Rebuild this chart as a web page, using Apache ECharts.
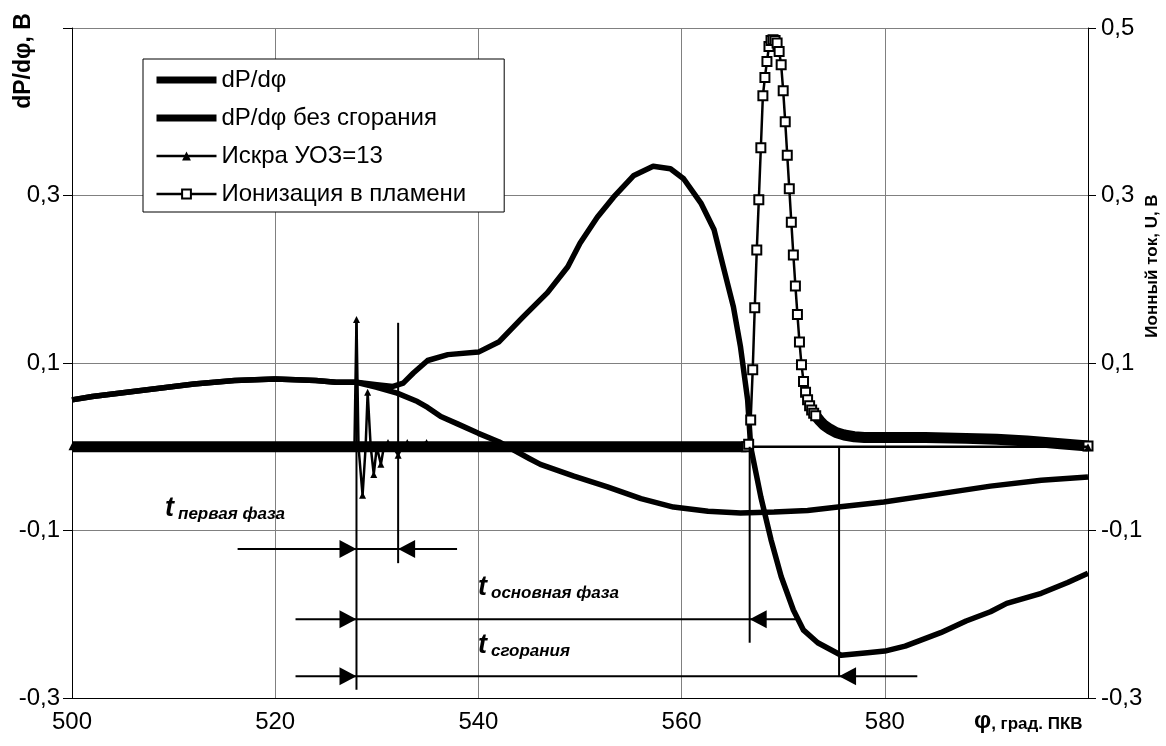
<!DOCTYPE html>
<html><head><meta charset="utf-8">
<script src="https://cdn.jsdelivr.net/npm/echarts@6/dist/echarts.min.js"></script>
<style>html,body{margin:0;padding:0;background:#fff}#c{width:1166px;height:746px}</style>
</head><body><div id="c"></div>
<script>
const FONT = '"Liberation Sans", Arial, sans-serif';

// ---- dP/dφ (с горением) ----
const dpX = [500,502,504,506,508,510,512,514,516,518,520,522,524,526,528,530,531.6,532.6,533.6,535,537,540,542,544.4,546.8,548.8,550,551.7,553.3,555.3,557.2,558.9,560.2,561.9,563.2,564.1,565.1,565.8,566.5,566.8,567.8,568.8,569.8,571,572,573.4,575.7,578.3,580,582,585.5,588,590.4,592,595.4,598,600];
const dpY = [0.056,0.060,0.063,0.066,0.069,0.072,0.075,0.077,0.079,0.080,0.081,0.080,0.079,0.077,0.077,0.074,0.072,0.076,0.088,0.103,0.110,0.113,0.125,0.155,0.184,0.215,0.243,0.274,0.298,0.324,0.335,0.332,0.320,0.291,0.259,0.215,0.167,0.119,0.056,0.0,-0.060,-0.111,-0.155,-0.195,-0.219,-0.234,-0.249,-0.246,-0.244,-0.238,-0.222,-0.208,-0.197,-0.187,-0.175,-0.162,-0.151];

// ---- dP/dφ без сгорания ----
const motX = [500,502,504,506,508,510,512,514,516,518,520,522,524,526,528,530,532,534,535,536.3,538,540,542,545,546.1,549.4,552.7,556,559.2,562.6,565.8,569.1,572.4,575.4,579.9,585.5,590.4,595.4,600];
const motY = [0.056,0.060,0.063,0.066,0.069,0.072,0.075,0.077,0.079,0.080,0.081,0.080,0.079,0.077,0.077,0.071,0.064,0.054,0.047,0.036,0.027,0.016,0.006,-0.014,-0.021,-0.035,-0.048,-0.062,-0.072,-0.077,-0.079,-0.078,-0.076,-0.072,-0.066,-0.056,-0.047,-0.040,-0.036];

// ---- Искра УОЗ=13 ----
const spkX = [500,511,527.8,528.0,528.2,528.6,528.9,529.1,529.4,529.7,530.0,530.4,530.7,531.1,531.6,532.1,532.5,533.0,533.5,534.9,535.3,600];
const spkY = [0,0,0,0.152,0,-0.058,0,0.065,0,-0.033,0,-0.021,0,0.005,0,-0.010,0,0.005,0,0.005,0,0];

// ---- Ионизация в пламени ----
const ionBaseX = [500,566.4];
const ionBaseY = [0,0];
const ionPeakX = [566.4,566.6,566.8,567.0,567.2,567.4,567.6,567.8,568.0,568.2,568.4,568.6,568.8,569.0,569.2,569.4,569.6,569.8,570.0,570.2,570.4,570.6,570.8,571.0,571.2,571.4,571.6,571.8,572.0,572.2,572.4,572.6,572.8,573.0,573.2];
const ionPeakY = [0,0.003,0.032,0.092,0.166,0.235,0.295,0.357,0.419,0.441,0.460,0.478,0.485,0.486,0.485,0.482,0.472,0.456,0.425,0.388,0.348,0.308,0.268,0.229,0.192,0.158,0.125,0.098,0.078,0.065,0.056,0.049,0.044,0.040,0.037];
const ionTailX = [573.2,573.6,574.0,574.6,575.2,576,577,578,580,584,588,591,594,597,600];
const ionTailY = [0.037,0.031,0.026,0.021,0.017,0.014,0.012,0.011,0.011,0.011,0.010,0.009,0.007,0.004,0.001];

// ---- axes ----
const xMin = 500, xMax = 600, xStep = 20;
const yMin = -0.3, yMax = 0.5, yStep = 0.2;

// ---- annotations (data units) ----
const vLineX = [528.0, 532.1, 566.7, 575.5];
const vLineTop = [0.152, 0.148, 0.0, 0.0];
const vLineBottom = [-0.29, -0.139, -0.234, -0.275];
const arrowRowY = [-0.122, -0.206, -0.274];
const arrowFromX = [516.3, 522.0, 522.0];
const arrowToX = [537.9, 571.4, 583.2];
const arrowRightTipX = [528.0, 528.0, 528.0];
const arrowLeftTipX = [532.1, 566.7, 575.5];

const zip = (xs, ys) => xs.map((x, i) => [x, ys[i]]);
const fmt = v => (Math.abs(v) < 1e-9 ? 0 : v).toFixed(1).replace('.', ',');

const chart = echarts.init(document.getElementById('c'), null, {renderer: 'canvas'});

const tail = zip(ionTailX, ionTailY);
tail[tail.length - 1] = {value: tail[tail.length - 1], symbol: 'rect', symbolSize: 9,
  itemStyle: {color: '#fff', borderColor: '#000', borderWidth: 2}};

const noSym = {color: 'rgba(0,0,0,0)', borderWidth: 0, opacity: 0};

const option = {
  animation: false,
  backgroundColor: '#fff',
  grid: {left: 72, right: 78, top: 28, bottom: 48, containLabel: false},
  xAxis: {
    type: 'value', min: xMin, max: xMax, interval: xStep,
    axisLine: {onZero: false, lineStyle: {color: '#000', width: 1}},
    axisTick: {show: false},
    axisLabel: {formatter: v => (v >= xMax ? '' : String(v)), fontSize: 24, color: '#000', fontFamily: FONT, margin: 12},
    splitLine: {show: true, lineStyle: {color: '#808080', width: 1}}
  },
  yAxis: [{
    type: 'value', position: 'left', min: yMin, max: yMax, interval: yStep,
    axisLine: {show: true, onZero: false, lineStyle: {color: '#000', width: 1}},
    axisTick: {show: true, inside: false, length: 9, lineStyle: {color: '#000'}},
    axisLabel: {formatter: v => (v > yMax - 0.01 ? '' : fmt(v)), fontSize: 24, color: '#000', fontFamily: FONT, margin: 12},
    splitLine: {show: true, lineStyle: {color: '#808080', width: 1}}
  }, {
    type: 'value', position: 'right', min: yMin, max: yMax, interval: yStep,
    axisLine: {show: true, onZero: false, lineStyle: {color: '#000', width: 1}},
    axisTick: {show: true, inside: false, length: 8, lineStyle: {color: '#000'}},
    axisLabel: {formatter: v => fmt(v), fontSize: 24, color: '#000', fontFamily: FONT, margin: 13},
    splitLine: {show: false}
  }],
  legend: {
    orient: 'vertical', left: 143, top: 59,
    itemWidth: 60, itemHeight: 11, itemGap: 14,
    padding: [9, 38, 6, 10],
    borderColor: '#000', borderWidth: 1, backgroundColor: '#fff',
    textStyle: {fontSize: 24, lineHeight: 24, color: '#000', fontFamily: FONT},
    selectedMode: false,
    data: [
      {name: 'dP/dφ', lineStyle: {width: 7, color: '#000'}, itemStyle: noSym},
      {name: 'dP/dφ без сгорания', lineStyle: {width: 7, color: '#000'}, itemStyle: noSym},
      {name: 'Искра УОЗ=13', lineStyle: {width: 2.5, color: '#000'}, itemStyle: {color: '#000'}},
      {name: 'Ионизация в пламени', lineStyle: {width: 2.5, color: '#000'}, itemStyle: {color: '#fff', borderColor: '#000', borderWidth: 2}}
    ]
  },
  series: [
    {name: 'dP/dφ без сгорания', type: 'line', data: zip(motX, motY), symbol: 'none', color: '#000',
      lineStyle: {width: 5.5, color: '#000', join: 'round'}, z: 2},
    {name: 'dP/dφ', type: 'line', data: zip(dpX, dpY), symbol: 'none', color: '#000',
      lineStyle: {width: 5.5, color: '#000', join: 'round'}, z: 3},
    {name: 'ion-base', type: 'line', data: zip(ionBaseX, ionBaseY), symbol: 'none', color: '#000',
      lineStyle: {width: 11, color: '#000'}, z: 4},
    {name: 'ion-tail', type: 'line', data: tail, symbol: 'none', color: '#000',
      lineStyle: {width: 11, color: '#000'}, z: 4},
    {name: 'Искра УОЗ=13', type: 'line', data: zip(spkX, spkY), symbol: 'triangle', symbolSize: 7,
      showAllSymbol: true, color: '#000', itemStyle: {color: '#000'},
      lineStyle: {width: 2.5, color: '#000'}, z: 5},
    {name: 'Ионизация в пламени', type: 'line', data: zip(ionPeakX, ionPeakY), symbol: 'rect', symbolSize: 9,
      showAllSymbol: true, color: '#000',
      itemStyle: {color: '#fff', borderColor: '#000', borderWidth: 2},
      lineStyle: {width: 2.5, color: '#000'}, z: 6}
  ]
};
chart.setOption(option);

const P = (x, y) => chart.convertToPixel({xAxisIndex: 0, yAxisIndex: 0}, [x, y]);
const g = [];
vLineX.forEach((x, i) => {
  const a = P(x, vLineTop[i]), b = P(x, vLineBottom[i]);
  g.push({type: 'line', shape: {x1: a[0], y1: a[1], x2: b[0], y2: b[1]}, style: {stroke: '#000', lineWidth: 2}, z: 20});
});
arrowRowY.forEach((y, i) => {
  const a = P(arrowFromX[i], y), b = P(arrowToX[i], y);
  g.push({type: 'line', shape: {x1: a[0], y1: a[1], x2: b[0], y2: b[1]}, style: {stroke: '#000', lineWidth: 2}, z: 20});
  const r = P(arrowRightTipX[i], y);
  g.push({type: 'polygon', shape: {points: [[r[0], r[1]], [r[0] - 17, r[1] - 9], [r[0] - 17, r[1] + 9]]}, style: {fill: '#000'}, z: 20});
  const l = P(arrowLeftTipX[i], y);
  g.push({type: 'polygon', shape: {points: [[l[0], l[1]], [l[0] + 17, l[1] - 9], [l[0] + 17, l[1] + 9]]}, style: {fill: '#000'}, z: 20});
});
const richT = {
  t: {fontSize: 27, fontWeight: 'bold', fontStyle: 'italic', fontFamily: FONT, fill: '#000', verticalAlign: 'bottom', lineHeight: 27},
  s: {fontSize: 17, fontWeight: 'bold', fontStyle: 'italic', fontFamily: FONT, fill: '#000', verticalAlign: 'bottom', lineHeight: 17, padding: [0, 0, 0, 4]}
};
[['первая фаза', 165, 509], ['основная фаза', 478, 588], ['сгорания', 478, 646]].forEach(([s, x, y]) => {
  g.push({type: 'text', x: x, y: y, z: 21, style: {text: '{t|t}{s|' + s + '}', rich: richT, verticalAlign: 'middle', align: 'left'}});
});
g.push({type: 'text', x: 974, y: 721, z: 21, style: {
  text: '{p|φ}{s|, град. ПКВ}', verticalAlign: 'middle', align: 'left',
  rich: {p: {fontSize: 24, fontWeight: 'bold', fontFamily: FONT, fill: '#000', verticalAlign: 'bottom', lineHeight: 24},
         s: {fontSize: 17, fontWeight: 'bold', fontFamily: FONT, fill: '#000', verticalAlign: 'bottom', lineHeight: 20}}}});
g.push({type: 'text', x: 24, y: 61, rotation: Math.PI / 2, z: 21, style: {
  text: 'dP/dφ, В', font: 'bold 23px ' + FONT, fill: '#000', align: 'center', verticalAlign: 'middle'}});
g.push({type: 'text', x: 1152, y: 266, rotation: Math.PI / 2, z: 21, style: {
  text: 'Ионный ток, U, В', font: 'bold 17px ' + FONT, fill: '#000', align: 'center', verticalAlign: 'middle'}});
chart.setOption({graphic: g});
</script>
</body></html>
